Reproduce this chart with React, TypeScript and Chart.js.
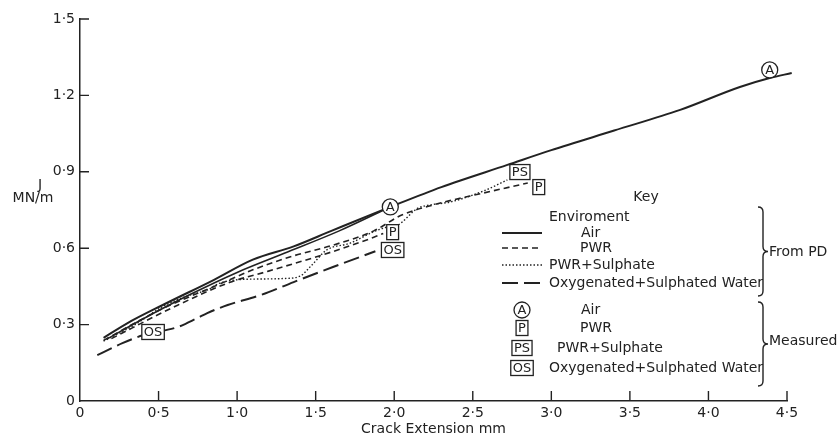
import { useEffect, useRef } from 'react';
import { Chart, registerables } from 'chart.js';

Chart.register(...registerables);

const FONT = '"DejaVu Sans", "Liberation Sans", sans-serif';
const INK = '#222222';

// ---- tick labels ----
const xTickLabels = ['0', '0·5', '1·0', '1·5', '2·0', '2·5', '3·0', '3·5', '4·0', '4·5'];
const yTickLabels = ['0', '0·3', '0·6', '0·9', '1·2', '1·5'];

// ---- "From PD" curves ----
const airLongX = [0.15, 0.3, 0.53, 0.85, 1.1, 1.36, 1.6, 1.975, 2.3, 2.72, 3.0, 3.4, 3.82, 4.2, 4.39, 4.53];
const airLongY = [0.248, 0.305, 0.378, 0.475, 0.555, 0.607, 0.668, 0.762, 0.84, 0.927, 0.985, 1.062, 1.143, 1.233, 1.268, 1.288];
const airShortX = [0.17, 0.4, 0.7, 1.0, 1.3, 1.65, 1.975];
const airShortY = [0.243, 0.322, 0.418, 0.505, 0.58, 0.668, 0.762];

const pwrLongX = [0.15, 0.5, 0.9, 1.1, 1.36, 1.61, 1.87, 2.04, 2.25, 2.57, 2.85];
const pwrLongY = [0.238, 0.355, 0.462, 0.515, 0.57, 0.612, 0.668, 0.728, 0.77, 0.817, 0.856];
const pwrShortX = [0.2, 0.6, 0.95, 1.2, 1.6, 1.87, 1.93];
const pwrShortY = [0.245, 0.37, 0.465, 0.51, 0.585, 0.643, 0.658];

const pwrSulX = [0.15, 0.35, 0.53, 0.7, 0.81, 0.89, 1.0, 1.15, 1.3, 1.4, 1.47, 1.57, 1.72, 1.87, 1.955, 2.02, 2.15, 2.23, 2.36, 2.57, 2.72];
const pwrSulY = [0.235, 0.3, 0.372, 0.416, 0.436, 0.463, 0.476, 0.479, 0.481, 0.49, 0.53, 0.593, 0.62, 0.665, 0.683, 0.69, 0.757, 0.77, 0.782, 0.825, 0.868];

const osX = [0.11, 0.27, 0.4, 0.62, 0.745, 0.81, 0.94, 1.15, 1.36, 1.61, 1.88];
const osY = [0.18, 0.227, 0.258, 0.29, 0.325, 0.345, 0.377, 0.416, 0.467, 0.526, 0.588];

// ---- "Measured" points ----
const airMeasX = [1.975, 4.39];
const airMeasY = [0.762, 1.3];
const pwrMeasX = [1.99, 2.92];
const pwrMeasY = [0.663, 0.84];
const pwrSulMeasX = [2.8];
const pwrSulMeasY = [0.899];
const osMeasX = [0.465, 1.99];
const osMeasY = [0.271, 0.593];

const pts = (xs: number[], ys: number[]) => xs.map((x, i) => ({ x, y: ys[i] }));

type Shape = 'circle' | 'box';

function drawMarker(ctx: CanvasRenderingContext2D, shape: Shape, text: string, cx: number, cy: number) {
  ctx.save();
  ctx.strokeStyle = INK;
  ctx.lineWidth = 1.3;
  ctx.fillStyle = '#ffffff';
  ctx.font = `13px ${FONT}`;
  if (shape === 'circle') {
    ctx.beginPath();
    ctx.arc(cx, cy, 8, 0, Math.PI * 2);
    ctx.fill();
    ctx.stroke();
  } else {
    const w = ctx.measureText(text).width + 4;
    const h = 15;
    ctx.fillRect(cx - w / 2, cy - h / 2, w, h);
    ctx.strokeRect(cx - w / 2, cy - h / 2, w, h);
  }
  ctx.fillStyle = INK;
  ctx.textAlign = 'center';
  ctx.textBaseline = 'middle';
  ctx.fillText(text, cx, cy + 0.5);
  ctx.restore();
}

function drawBrace(ctx: CanvasRenderingContext2D, x: number, y1: number, y2: number) {
  const ym = (y1 + y2) / 2;
  const r = 5;
  ctx.beginPath();
  ctx.moveTo(x - r, y1);
  ctx.quadraticCurveTo(x, y1, x, y1 + r);
  ctx.lineTo(x, ym - r);
  ctx.quadraticCurveTo(x, ym, x + r, ym);
  ctx.quadraticCurveTo(x, ym, x, ym + r);
  ctx.lineTo(x, y2 - r);
  ctx.quadraticCurveTo(x, y2, x - r, y2);
  ctx.stroke();
}

const markerSets: { shape: Shape; text: string; idx: number }[] = [];

const decorPlugin = {
  id: 'decor',
  afterDatasetsDraw(chart: any) {
    const ctx: CanvasRenderingContext2D = chart.ctx;
    const xs = chart.scales.x;
    const ys = chart.scales.y;
    ctx.save();
    // inward tick marks
    ctx.strokeStyle = INK;
    ctx.lineWidth = 1.4;
    ctx.beginPath();
    xs.ticks.forEach((t: any) => {
      if (t.value === 0) return;
      const px = xs.getPixelForValue(t.value);
      ctx.moveTo(px, ys.bottom);
      ctx.lineTo(px, ys.bottom - 10);
    });
    ys.ticks.forEach((t: any) => {
      if (t.value === 0) return;
      const py = ys.getPixelForValue(t.value);
      ctx.moveTo(xs.left, py);
      ctx.lineTo(xs.left + 9, py);
    });
    ctx.stroke();

    // measured markers, placed through the dataset elements
    markerSets.forEach((m) => {
      const meta = chart.getDatasetMeta(m.idx);
      meta.data.forEach((el: any) => drawMarker(ctx, m.shape, m.text, el.x, el.y));
    });

    // y axis title
    ctx.fillStyle = INK;
    ctx.font = `14px ${FONT}`;
    ctx.textAlign = 'center';
    ctx.textBaseline = 'middle';
    ctx.fillText('J', 40, 185);
    ctx.fillText('MN/m', 33, 198);

    // key
    ctx.textAlign = 'center';
    ctx.fillText('Key', 646, 197);
    ctx.textAlign = 'left';
    ctx.fillText('Enviroment', 549, 217);

    const rows: { y: number; dash: number[]; w: number; text: string; tx: number }[] = [
      { y: 233, dash: [], w: 2, text: 'Air', tx: 581 },
      { y: 248, dash: [6, 4], w: 1.6, text: 'PWR', tx: 580 },
      { y: 265, dash: [1.5, 2], w: 1.4, text: 'PWR+Sulphate', tx: 549 },
      { y: 283, dash: [16, 6], w: 2, text: 'Oxygenated+Sulphated Water', tx: 549 },
    ];
    rows.forEach((r) => {
      ctx.save();
      ctx.setLineDash(r.dash);
      ctx.lineWidth = r.w;
      ctx.beginPath();
      ctx.moveTo(502, r.y);
      ctx.lineTo(542, r.y);
      ctx.stroke();
      ctx.restore();
      ctx.fillText(r.text, r.tx, r.y);
    });

    const mrows: { y: number; shape: Shape; mark: string; text: string; tx: number }[] = [
      { y: 310, shape: 'circle', mark: 'A', text: 'Air', tx: 581 },
      { y: 328, shape: 'box', mark: 'P', text: 'PWR', tx: 580 },
      { y: 348, shape: 'box', mark: 'PS', text: 'PWR+Sulphate', tx: 557 },
      { y: 368, shape: 'box', mark: 'OS', text: 'Oxygenated+Sulphated Water', tx: 549 },
    ];
    mrows.forEach((r) => {
      drawMarker(ctx, r.shape, r.mark, 522, r.y);
      ctx.fillStyle = INK;
      ctx.font = `14px ${FONT}`;
      ctx.textAlign = 'left';
      ctx.textBaseline = 'middle';
      ctx.fillText(r.text, r.tx, r.y);
    });

    ctx.lineWidth = 1.4;
    drawBrace(ctx, 763, 207, 296);
    drawBrace(ctx, 763, 302, 386);
    ctx.fillText('From PD', 769, 252);
    ctx.fillText('Measured', 769, 341);
    ctx.restore();
  },
};

export default function App() {
  const ref = useRef<HTMLCanvasElement | null>(null);

  useEffect(() => {
    if (!ref.current) return;
    const line = (data: any, dash: number[], width: number) => ({
      type: 'line' as const,
      data,
      borderColor: INK,
      borderWidth: width,
      borderDash: dash,
      pointRadius: 0,
      cubicInterpolationMode: 'monotone' as const,
      fill: false,
      clip: false as any,
    });
    const datasets: any[] = [
      line(pts(airLongX, airLongY), [], 2),
      line(pts(airShortX, airShortY), [], 1.6),
      line(pts(pwrLongX, pwrLongY), [6, 4], 1.6),
      line(pts(pwrShortX, pwrShortY), [6, 4], 1.6),
      line(pts(pwrSulX, pwrSulY), [1.5, 2], 1.4),
      line(pts(osX, osY), [16, 6], 2),
    ];
    markerSets.length = 0;
    const addMarks = (xs: number[], ys: number[], shape: Shape, text: string) => {
      markerSets.push({ shape, text, idx: datasets.length });
      datasets.push({ type: 'scatter', data: pts(xs, ys), pointRadius: 0, pointHoverRadius: 0, showLine: false });
    };
    addMarks(airMeasX, airMeasY, 'circle', 'A');
    addMarks(pwrMeasX, pwrMeasY, 'box', 'P');
    addMarks(pwrSulMeasX, pwrSulMeasY, 'box', 'PS');
    addMarks(osMeasX, osMeasY, 'box', 'OS');

    const chart = new Chart(ref.current, {
      type: 'line',
      data: { datasets },
      plugins: [decorPlugin],
      options: {
        animation: false,
        responsive: false,
        devicePixelRatio: 1,
        layout: { padding: { top: 19, right: 51, bottom: 0, left: 0 } },
        plugins: { legend: { display: false }, tooltip: { enabled: false } },
        events: [],
        scales: {
          x: {
            type: 'linear',
            min: 0,
            max: 4.5,
            afterFit: (s: any) => { s.height = 40; },
            afterBuildTicks: (s: any) => { s.ticks = xTickLabels.map((_, i) => ({ value: i * 0.5 })); },
            ticks: {
              padding: 4,
              color: INK,
              font: { family: FONT, size: 14 },
              maxRotation: 0,
              callback: (_v: any, i: number) => xTickLabels[i],
            },
            grid: { display: false, drawTicks: false },
            border: { display: true, color: INK, width: 1.5 },
            title: {
              display: true,
              text: 'Crack Extension mm',
              color: INK,
              font: { family: FONT, size: 14 },
              padding: { top: 0, bottom: 3 },
            },
          },
          y: {
            type: 'linear',
            min: 0,
            max: 1.5,
            afterFit: (s: any) => { s.width = 80; },
            afterBuildTicks: (s: any) => { s.ticks = yTickLabels.map((_, i) => ({ value: i * 0.3 })); },
            ticks: {
              padding: 5,
              color: INK,
              font: { family: FONT, size: 14 },
              callback: (_v: any, i: number) => yTickLabels[i],
            },
            grid: { display: false, drawTicks: false },
            border: { display: true, color: INK, width: 1.5 },
          },
        },
      },
    });
    return () => chart.destroy();
  }, []);

  return (
    <div style={{ position: 'absolute', left: 0, top: 0, width: 838, height: 441, background: '#fff' }}>
      <canvas ref={ref} width={838} height={441} />
    </div>
  );
}
